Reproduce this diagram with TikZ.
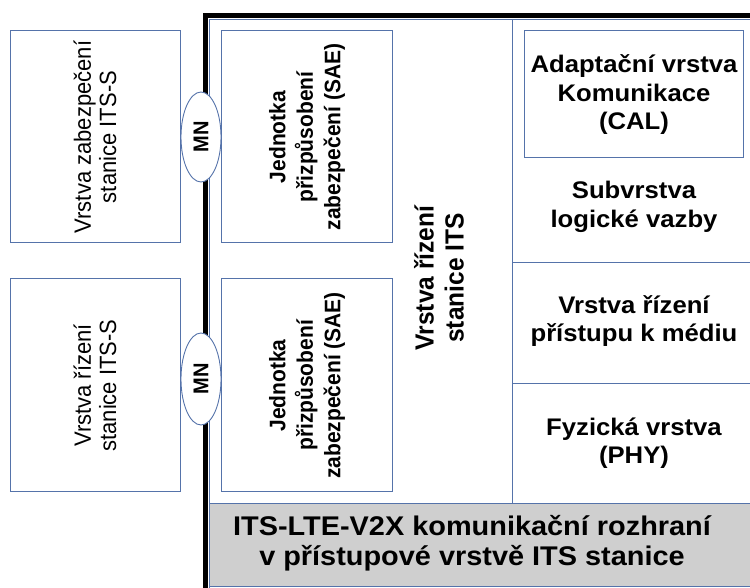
\documentclass[tikz,border=0pt]{standalone}
\usepackage{fontspec}
\setmainfont{Liberation Sans}
\usetikzlibrary{shapes.geometric}
\definecolor{bord}{RGB}{85,115,170}
\definecolor{graybg}{RGB}{207,207,207}
\begin{document}
\begin{tikzpicture}[x=0.934579pt, y=-1pt, xscale=1.07,
  every node/.append style={transform shape},
  box/.style={draw=bord, line width=1pt},
  thin/.style={draw=bord, line width=0.9pt},
  ltxt/.style={rotate=90, align=center, inner sep=0pt, font=\fontsize{22}{23.5}\selectfont},
  saetxt/.style={rotate=90, align=center, inner sep=0pt, font=\fontsize{21}{25.7}\selectfont\bfseries},
  midtxt/.style={rotate=90, align=center, inner sep=0pt, font=\fontsize{24.5}{28}\selectfont\bfseries},
  rtxt/.style={align=center, inner sep=0pt, font=\fontsize{24}{28.5}\selectfont\bfseries},
  gtxt/.style={align=center, inner sep=0pt, font=\fontsize{27}{30}\selectfont\bfseries},
  mn/.style={ellipse, draw=bord, line width=0.9pt, fill=white, rotate=90, inner sep=0pt,
    minimum width=90pt, minimum height=37.4pt, font=\fontsize{20}{22}\selectfont\bfseries}
]
\useasboundingbox (0,0) rectangle (750,588);

% gray bottom band
\fill[graybg] (210,503) rectangle (750,587);
\draw[thin] (210,503) -- (750,503);
\draw[thin] (210,586.5) -- (750,586.5);

% inner thin borders
\draw[thin] (209.5,588) -- (209.5,19) -- (750,19);
\draw[thin] (512,19) -- (512,503);
\draw[thin] (512,262) -- (750,262);
\draw[thin] (512,383) -- (750,383);

% thick black frame
\draw[line width=5pt, line cap=butt, line join=miter] (205.5,588) -- (205.5,15.5) -- (750,15.5);

% left boxes
\draw[box] (10,31) rectangle (180,243);
\draw[box] (10,279) rectangle (180,492);
\node[ltxt] (sec) at (95,137) {Vrstva zabezpečení\\stanice ITS-S};
\node[ltxt] (mgmt) at (95,385.5) {Vrstva řízení\\stanice ITS-S};

% SAE boxes
\draw[box] (221,31) rectangle (392,243);
\draw[box] (221,279) rectangle (392,492);
\node[saetxt] (sae1) at (307,137) {Jednotka\\přizpůsobení\\zabezpečení (SAE)};
\node[saetxt] (sae2) at (307,385.5) {Jednotka\\přizpůsobení\\zabezpečení (SAE)};

% MN ellipses
\node[mn] (mn1) at (201,137) {MN};
\node[mn, minimum width=92pt] (mn2) at (201,379) {MN};

% middle text
\node[midtxt] (its) at (439,278) {Vrstva řízení\\stanice ITS};

% right column
\draw[box] (524,31) rectangle (743,158);
\node[rtxt] (cal) at (634,95) {Adaptační vrstva\\Komunikace\\(CAL)};
\node[rtxt] (llc) at (634,207) {Subvrstva\\logické vazby};
\node[rtxt] (mac) at (634,321) {Vrstva řízení\\přístupu k médiu};
\node[rtxt] (phy) at (634,443) {Fyzická vrstva\\(PHY)};

% bottom band text
\node[gtxt] (band) at (472,543) {ITS-LTE-V2X komunikační rozhraní\\v přístupové vrstvě ITS stanice};
\end{tikzpicture}
\end{document}
